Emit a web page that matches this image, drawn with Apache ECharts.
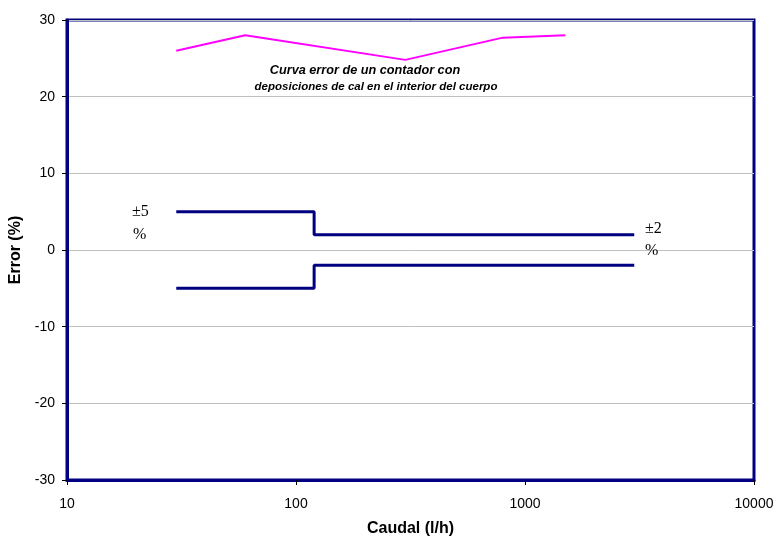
<!DOCTYPE html>
<html><head><meta charset="utf-8">
<script src="https://cdn.jsdelivr.net/npm/echarts@6/dist/echarts.min.js"></script>
<style>html,body{margin:0;padding:0;background:#fff}#c{width:779px;height:536px}</style>
</head><body><div id="c"></div>
<script>
const curveX = [30, 60, 300, 800, 1500];
const curveY = [26, 28, 24.8, 27.7, 28];
const upperX = [30, 120, 120, 3000];
const upperY = [5, 5, 2, 2];
const lowerX = [30, 120, 120, 3000];
const lowerY = [-5, -5, -2, -2];
const yTicks = [-30, -20, -10, 0, 10, 20, 30];
const xTicks = [10, 100, 1000, 10000];
const noteLines = ['Curva error de un contador con', 'deposiciones de cal en el interior del cuerpo'];

const zip = (a, b) => a.map((v, i) => [v, b[i]]);
const chart = echarts.init(document.getElementById('c'), null, {renderer: 'canvas'});
const font = 'Arial, "Liberation Sans", sans-serif';
const serif = '16px "Liberation Serif", "Times New Roman", serif';
chart.setOption({
  animation: false,
  backgroundColor: '#fff',
  grid: {left: 67, right: 25, top: 20, bottom: 56, containLabel: false, outerBoundsMode: 'none',
         show: true, borderColor: '#000080', borderWidth: 3, backgroundColor: '#fff'},
  xAxis: {
    type: 'log', logBase: 10, min: 10, max: 10000,
    name: 'Caudal (l/h)', nameLocation: 'middle', nameGap: 41,
    nameTextStyle: {fontFamily: font, fontWeight: 'bold', fontSize: 16, color: '#000'},
    axisLine: {show: true, onZero: false, lineStyle: {color: '#000080', width: 3}},
    axisTick: {show: true, length: 5, lineStyle: {color: '#000', width: 1}},
    axisLabel: {fontFamily: font, fontSize: 14, color: '#000', margin: 17,
                formatter: v => String(Math.round(v))},
    splitLine: {show: false}, minorTick: {show: false}
  },
  yAxis: {
    type: 'value', min: -30, max: 30, interval: 10,
    name: 'Error (%)', nameLocation: 'middle', nameGap: 40, nameRotate: 90,
    nameTextStyle: {fontFamily: font, fontWeight: 'bold', fontSize: 16, color: '#000'},
    axisLine: {show: true, lineStyle: {color: '#000080', width: 3}},
    axisTick: {show: true, length: 5, lineStyle: {color: '#000', width: 1}},
    axisLabel: {fontFamily: font, fontSize: 14, color: '#000', margin: 12},
    splitLine: {show: true, lineStyle: {color: '#c0c0c0', width: 1}}
  },
  series: [
    {type: 'line', data: zip(curveX, curveY), symbol: 'none', lineStyle: {color: '#ff00ff', width: 2}},
    {type: 'line', data: zip(upperX, upperY), symbol: 'none', lineStyle: {color: '#000080', width: 3}},
    {type: 'line', data: zip(lowerX, lowerY), symbol: 'none', lineStyle: {color: '#000080', width: 3}}
  ],
  graphic: [
    {type: 'text', z: 100, style: {text: noteLines[0], x: 365, y: 70, textAlign: 'center', textVerticalAlign: 'middle', font: 'italic bold 12.7px Arial, "Liberation Sans", sans-serif', fill: '#000'}},
    {type: 'text', z: 100, style: {text: noteLines[1], x: 376, y: 87, textAlign: 'center', textVerticalAlign: 'middle', font: 'italic bold 11.5px Arial, "Liberation Sans", sans-serif', fill: '#000'}},
    {type: 'text', z: 100, style: {text: '±5', x: 132, y: 212, textVerticalAlign: 'middle', font: serif, fill: '#000'}},
    {type: 'text', z: 100, style: {text: '%', x: 133, y: 235, textVerticalAlign: 'middle', font: serif, fill: '#000'}},
    {type: 'text', z: 100, style: {text: '±2', x: 645, y: 229, textVerticalAlign: 'middle', font: serif, fill: '#000'}},
    {type: 'text', z: 100, style: {text: '%', x: 645, y: 251, textVerticalAlign: 'middle', font: serif, fill: '#000'}}
  ]
});
</script></body></html>
